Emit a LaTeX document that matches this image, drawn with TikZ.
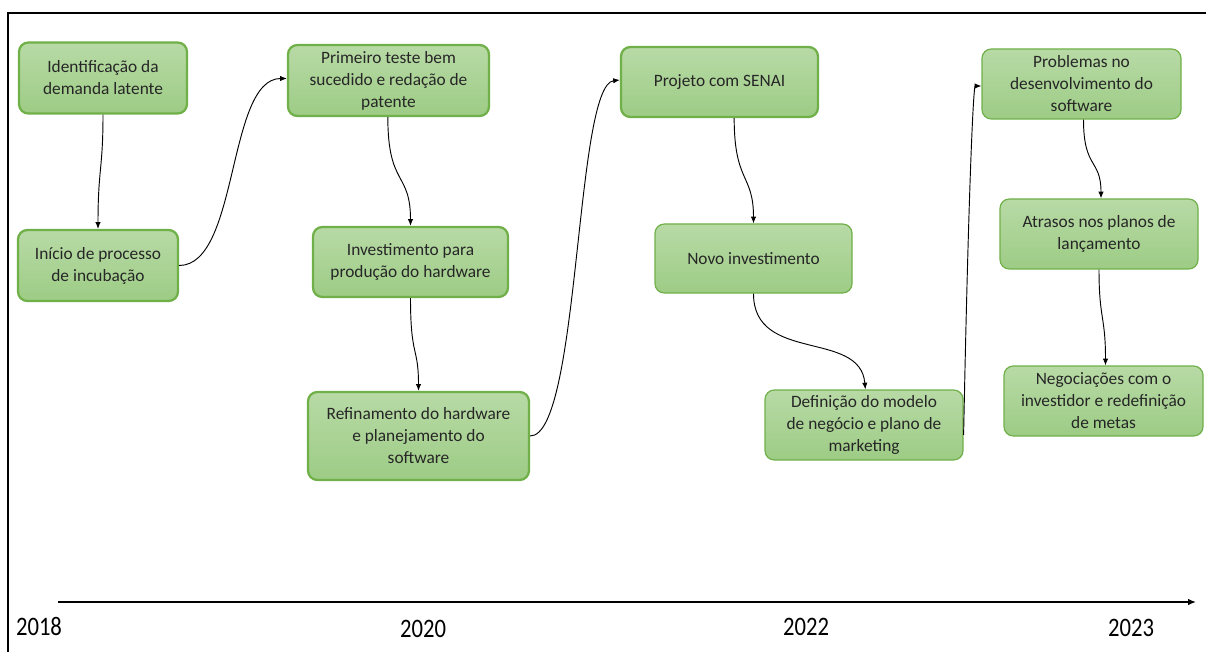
\documentclass[tikz,border=0pt]{standalone}
\usepackage{fontspec}
\setmainfont{Carlito}
\usetikzlibrary{arrows.meta}
\definecolor{boxtop}{RGB}{184,218,166}
\definecolor{boxbot}{RGB}{157,204,133}
\definecolor{boxline}{RGB}{112,176,72}
\tikzset{
  stage/.style={rectangle, rounded corners=7pt, draw=boxline,
    top color=boxtop, bottom color=boxbot, align=center,
    font=\fontsize{13}{16.5}\selectfont, text=black!85, inner sep=2pt},
  heavy/.style={line width=1.7pt},
  light/.style={line width=0.9pt},
  link/.style={-{Latex[length=5pt,width=4pt]}, line width=0.7pt, black},
  yearlbl/.style={font=\fontsize{20}{22}\selectfont, xscale=0.85, inner sep=0pt}
}
\begin{document}
\begin{tikzpicture}[x=0.75pt,y=-0.75pt]
\useasboundingbox (0,0) rectangle (1206,652);
\fill[white] (0,0) rectangle (1206,652);

% outer frame (top and left edges)
\coordinate (fa) at (1206,13);
\coordinate (fb) at (8,13);
\coordinate (fc) at (8,652);
\draw[line width=1.4pt] (fa) -- (fb) -- (fc);

% stages
\node[stage, heavy, minimum width=126pt, minimum height=53.25pt] (s1) at (103,78)
  {Identificação da\\demanda latente};
\node[stage, heavy, minimum width=120pt, minimum height=53.25pt] (s2) at (98,265.5)
  {Início de processo\\de incubação};
\node[stage, heavy, minimum width=150.75pt, minimum height=53.25pt] (s3) at (388.5,80.5)
  {Primeiro teste bem\\sucedido e redação de\\patente};
\node[stage, heavy, minimum width=146.25pt, minimum height=52.5pt] (s4) at (410.5,262)
  {Investimento para\\produção do hardware};
\node[stage, heavy, minimum width=165.75pt, minimum height=66pt] (s5) at (418.5,436)
  {Refinamento do hardware\\e planejamento do\\software};
\node[stage, heavy, minimum width=147.75pt, minimum height=52.5pt] (s6) at (719.5,82)
  {Projeto com SENAI};
\node[stage, light, minimum width=147.75pt, minimum height=51.75pt] (s7) at (753.5,258.5)
  {Novo investimento};
\node[stage, light, minimum width=148.5pt, minimum height=52.5pt] (s8) at (864,425)
  {Definição do modelo\\de negócio e plano de\\marketing};
\node[stage, light, minimum width=149.25pt, minimum height=52.5pt] (s9) at (1081.5,84)
  {Problemas no\\desenvolvimento do\\software};
\node[stage, light, minimum width=148.5pt, minimum height=52.5pt] (s10) at (1099,234)
  {Atrasos nos planos de\\lançamento};
\node[stage, light, minimum width=149.25pt, minimum height=52.5pt] (s11) at (1103.5,401)
  {Negociações com o\\investidor e redefinição\\de metas};

% connectors
\draw[link] (s1.south) .. controls +(0,55) and +(0,-60) .. (s2.north);
\draw[link] (s2.east) .. controls +(60,0) and +(-60,0) .. ([yshift=1.5pt]s3.west);
\draw[link] ([xshift=-0.5pt]s3.south) .. controls +(0,70) and +(0,-55) .. (s4.north);
\draw[link] (s4.south) .. controls +(0,60) and +(0,-45) .. (s5.north);
\draw[link] (s5.east) .. controls +(50,0) and +(-45,5) .. ([yshift=1.5pt]s6.west);
\draw[link] ([xshift=11pt]s6.south) .. controls +(0,65) and +(0,-50) .. (s7.north);
\draw[link] (s7.south) .. controls +(0,70) and +(-5,-60) .. ([xshift=1pt]s8.north);
\draw[link] ([yshift=-7.5pt]s8.east) .. controls +(5,-250) and +(-8,0) .. ([yshift=-1.5pt]s9.west);
\draw[link] ([xshift=1.5pt]s9.south) .. controls +(0,50) and +(0,-40) .. ([xshift=1.5pt]s10.north);
\draw[link] (s10.south) .. controls +(0,50) and +(0,-50) .. ([xshift=1.5pt]s11.north);

% time axis
\coordinate (ax0) at (58,602);
\coordinate (ax1) at (1196,602);
\draw[-{Latex[length=6pt,width=5pt]}, line width=1.1pt] (ax0) -- (ax1);
\node[yearlbl] (y2018) at (39,626) {2018};
\node[yearlbl] (y2020) at (423,629) {2020};
\node[yearlbl] (y2022) at (806,627) {2022};
\node[yearlbl] (y2023) at (1131,628) {2023};
\end{tikzpicture}
\end{document}
